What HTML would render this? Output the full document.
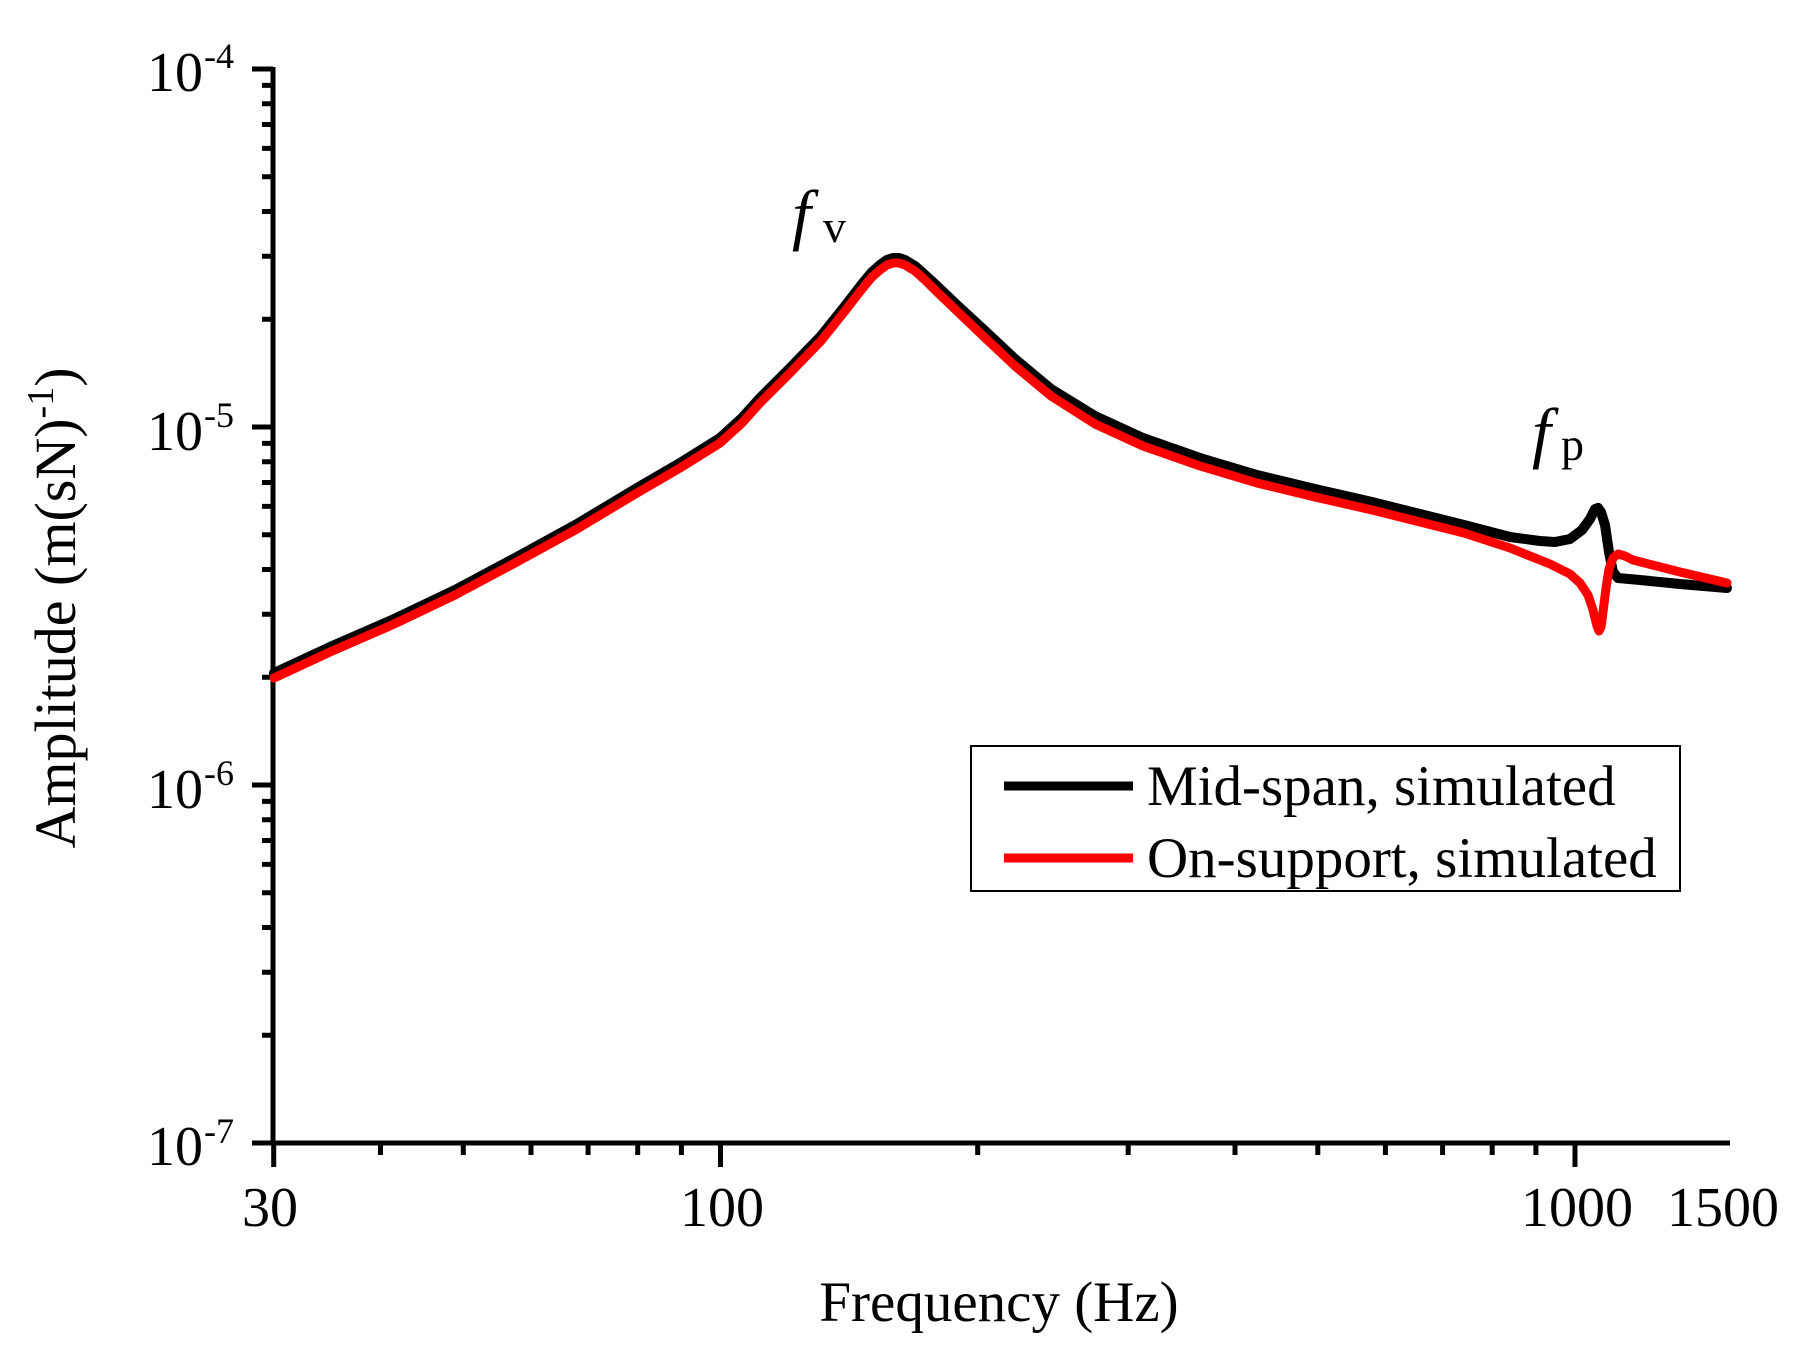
<!DOCTYPE html>
<html><head><meta charset="utf-8"><style>html,body{margin:0;padding:0;background:#fff}svg{display:block}</style></head>
<body>
<svg xmlns="http://www.w3.org/2000/svg" width="1820" height="1362" viewBox="0 0 1820 1362" font-family="'Liberation Serif', serif">
<rect width="1820" height="1362" fill="#fff"/>
<path stroke="#000" stroke-width="5" fill="none" d="M252 69H273M252 427H273M252 785H273M252 1143H273
M262 319.2H273M262 256.2H273M262 211.5H273M262 176.8H273M262 148.4H273M262 124.5H273M262 103.7H273M262 85.4H273
M262 677.2H273M262 614.2H273M262 569.5H273M262 534.8H273M262 506.4H273M262 482.5H273M262 461.7H273M262 443.4H273
M262 1035.2H273M262 972.2H273M262 927.5H273M262 892.8H273M262 864.4H273M262 840.5H273M262 819.7H273M262 801.4H273
M273.7 1143V1167M720.5 1143V1167M1575 1143V1167
M380.5 1143V1155M463.3 1143V1155M531 1143V1155M588.1 1143V1155M637.7 1143V1155M681.4 1143V1155
M977.7 1143V1155M1128.2 1143V1155M1235 1143V1155M1317.8 1143V1155M1385.4 1143V1155M1442.6 1143V1155M1492.2 1143V1155M1535.9 1143V1155"/>
<line x1="273" y1="67" x2="273" y2="1145" stroke="#000" stroke-width="5"/>
<line x1="271" y1="1143" x2="1730" y2="1143" stroke="#000" stroke-width="5"/>
<g font-size="56" text-anchor="middle" fill="#000">
<text x="270" y="1226">30</text>
<text x="722" y="1226">100</text>
<text x="1577" y="1226">1000</text>
<text x="1723" y="1226">1500</text>
</g>
<g font-size="56" fill="#000" text-anchor="end">
<text x="203" y="91">10</text><text x="203" y="450">10</text><text x="203" y="808">10</text><text x="203" y="1165">10</text>
</g>
<g font-size="36" fill="#000">
<text x="204" y="68">-4</text><text x="204" y="427">-5</text><text x="204" y="785">-6</text><text x="204" y="1143">-7</text>
</g>
<text transform="translate(75,608) rotate(-90)" font-size="58" text-anchor="middle" fill="#000">Amplitude (m(sN)<tspan font-size="38" dy="-22">-1</tspan><tspan dy="22">)</tspan></text>
<text x="999" y="1321" font-size="57" text-anchor="middle" fill="#000">Frequency (Hz)</text>
<text x="792" y="237" font-size="68" font-style="italic" fill="#000">f</text>
<text x="823" y="242" font-size="46" fill="#000">v</text>
<text x="1532" y="455" font-size="68" font-style="italic" fill="#000">f</text>
<text x="1561" y="460" font-size="46" fill="#000">p</text>
<polyline fill="none" stroke="#000" stroke-width="10" stroke-linejoin="round" stroke-linecap="round" points="274,673 330,647 392,620 455,590 515,558 577,524 637,488 680,463 720,438 742,418 760,398 790,368 821,336 845,306 862,284 872,272 880,265 887,260 893,258 899,258 905,260 915,266 925,275 936,285 958,306 982,328 1015,359 1051,389 1095,416 1143,438 1200,458 1257,475 1315,489 1372,502 1420,514 1464,525 1510,537 1540,541 1555,542 1570,539 1582,530 1590,519 1595,509 1598,508 1601,512 1605,525 1609,552 1613,572 1618,578 1640,580 1680,584 1727,588"/>
<polyline fill="none" stroke="#f00" stroke-width="9" stroke-linejoin="round" stroke-linecap="round" points="274,678 330,652 392,625 455,595 515,563 577,529 637,493 680,468 720,443 742,423 760,403 790,373 821,341 845,311 862,289 872,277 880,270 887,265 893,263 899,263 905,265 915,271 925,280 936,291 958,312 982,335 1015,366 1051,396 1095,424 1143,446 1200,466 1257,483 1315,497 1372,510 1420,522 1464,533 1510,548 1550,564 1570,574 1580,583 1588,595 1593,610 1597,626 1599,631 1601,627 1603,612 1606,588 1609,569 1613,558 1618,554 1625,556 1633,560 1680,572 1727,583"/>
<rect x="971" y="746" width="709" height="145" fill="#fff" stroke="#000" stroke-width="2"/>
<line x1="1004" y1="786" x2="1133" y2="786" stroke="#000" stroke-width="9"/>
<line x1="1004" y1="858" x2="1133" y2="858" stroke="#f00" stroke-width="9"/>
<text x="1147" y="805" font-size="57" fill="#000">Mid-span, simulated</text>
<text x="1147" y="877" font-size="57" fill="#000">On-support, simulated</text>
</svg>
</body></html>
